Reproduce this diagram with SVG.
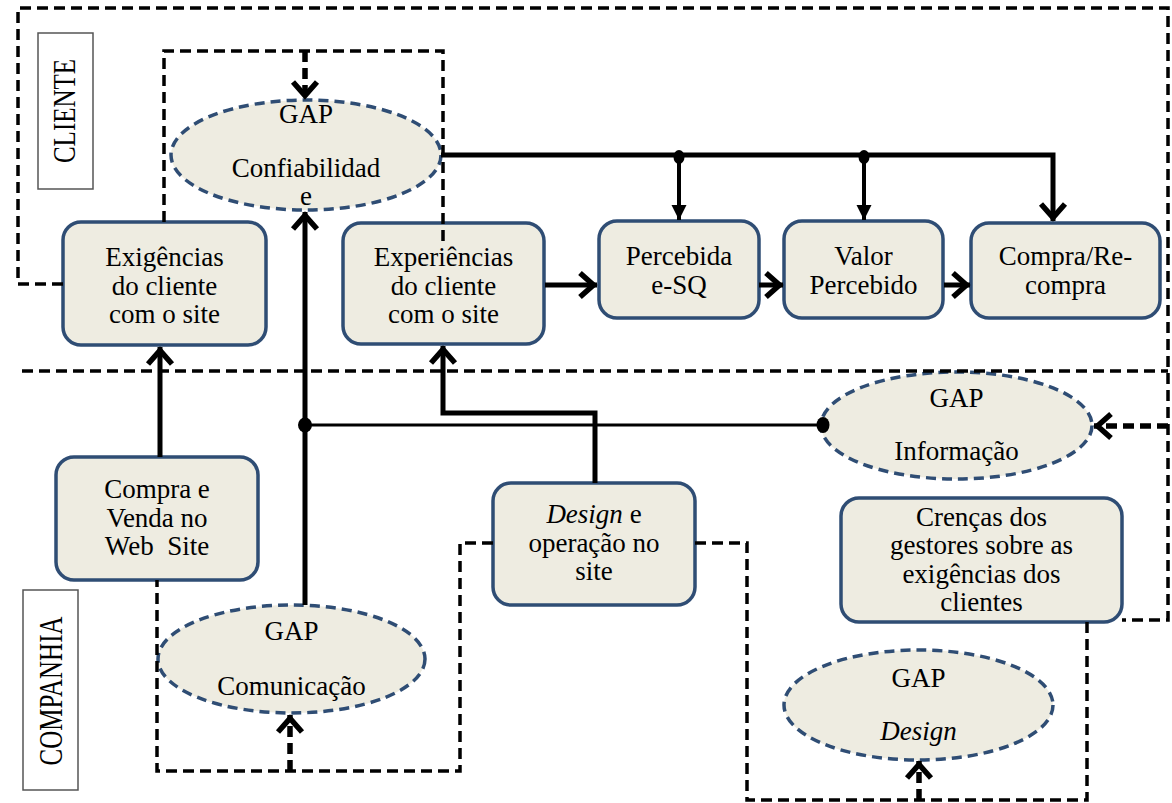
<svg xmlns="http://www.w3.org/2000/svg" width="1172" height="803" viewBox="0 0 1172 803">
  <defs>
    <style>
      .box{fill:#EEECE1;stroke:#2F4D74;stroke-width:3.5}
      .gap{fill:#EEECE1;stroke:#2F4D74;stroke-width:3.5;stroke-dasharray:10 6}
      .t{font-family:"Liberation Serif","Times New Roman",serif;font-size:27px;fill:#000;text-anchor:middle}
      .lbl{font-family:"Liberation Serif","Times New Roman",serif;font-size:25px;fill:#000;text-anchor:middle}
      .lblbox{fill:#fff;stroke:#555;stroke-width:1.5}
      .dash{fill:none;stroke:#000;stroke-width:3.5;stroke-dasharray:11 6}
      .dashb{fill:none;stroke:#000;stroke-width:5.5;stroke-dasharray:11 6}
      .solid{fill:none;stroke:#000;stroke-width:5}
      .mid{fill:none;stroke:#000;stroke-width:4}
      .thin{fill:none;stroke:#000;stroke-width:3}
      .dot{fill:#000}
    </style>
    <!-- open chevron head -->
    <marker id="chev" markerUnits="userSpaceOnUse" viewBox="-22 -16 26 32" markerWidth="26" markerHeight="32" refX="0" refY="0" orient="auto">
      <path d="M-17,-12 L-3.5,0 L-17,12" fill="none" stroke="#000" stroke-width="5.5"/>
    </marker>
    <!-- narrow filled head -->
    <marker id="tri" markerUnits="userSpaceOnUse" viewBox="-16 -9 18 18" markerWidth="18" markerHeight="18" refX="0" refY="0" orient="auto">
      <path d="M-15,-7.5 L0,0 L-15,7.5 Z" fill="#000"/>
    </marker>
  </defs>

  <!-- side labels -->
  <g id="label-cliente">
    <rect class="lblbox" x="38" y="33" width="55" height="156"/>
    <text class="lbl" transform="translate(66,111) rotate(-90) scale(1,1.3)" x="0" y="7">CLIENTE</text>
  </g>
  <g id="label-companhia">
    <rect class="lblbox" x="23" y="590" width="55" height="200"/>
    <text class="lbl" transform="translate(50,691) rotate(-90) scale(1,1.35)" x="0" y="9">COMPANHIA</text>
  </g>

  <!-- nodes -->
  <g id="gap-confiabilidade">
    <ellipse class="gap" cx="306" cy="155" rx="135" ry="55"/>
    <text class="t" x="306" y="123">GAP</text>
    <text class="t" x="306" y="177">Confiabilidad</text>
    <text class="t" x="306" y="205">e</text>
  </g>
  <g id="exigencias">
    <rect class="box" x="63" y="222" width="203" height="123" rx="18"/>
    <text class="t" x="164.5" y="266">Exigências</text>
    <text class="t" x="164.5" y="295">do cliente</text>
    <text class="t" x="164.5" y="323">com o site</text>
  </g>
  <g id="experiencias">
    <rect class="box" x="343" y="223" width="201" height="121" rx="18"/>
    <text class="t" x="443.5" y="266">Experiências</text>
    <text class="t" x="443.5" y="295">do cliente</text>
    <text class="t" x="443.5" y="323">com o site</text>
  </g>
  <g id="percebida-esq">
    <rect class="box" x="599" y="221" width="160" height="97" rx="18"/>
    <text class="t" x="679" y="265">Percebida</text>
    <text class="t" x="679" y="294">e-SQ</text>
  </g>
  <g id="valor-percebido">
    <rect class="box" x="784" y="221" width="159" height="97" rx="18"/>
    <text class="t" x="863.5" y="265">Valor</text>
    <text class="t" x="863.5" y="294">Percebido</text>
  </g>
  <g id="compra-recompra">
    <rect class="box" x="971" y="223" width="189" height="95" rx="18"/>
    <text class="t" x="1065.5" y="265">Compra/Re-</text>
    <text class="t" x="1065.5" y="294">compra</text>
  </g>
  <g id="gap-informacao">
    <ellipse class="gap" cx="956.5" cy="425.5" rx="135.5" ry="53.5"/>
    <text class="t" x="956.5" y="407">GAP</text>
    <text class="t" x="956.5" y="460">Informação</text>
  </g>
  <g id="compra-venda">
    <rect class="box" x="56" y="457" width="202" height="123" rx="18"/>
    <text class="t" x="157" y="498">Compra e</text>
    <text class="t" x="157" y="527">Venda no</text>
    <text class="t" x="157" y="555">Web&#160; Site</text>
  </g>
  <g id="design-operacao">
    <rect class="box" x="493" y="483" width="202" height="122" rx="18"/>
    <text class="t" x="594" y="523"><tspan font-style="italic">Design</tspan> e</text>
    <text class="t" x="594" y="552">operação no</text>
    <text class="t" x="594" y="580">site</text>
  </g>
  <g id="crencas">
    <rect class="box" x="841" y="498" width="281" height="124" rx="18"/>
    <text class="t" x="981.5" y="526">Crenças dos</text>
    <text class="t" x="981.5" y="554">gestores sobre as</text>
    <text class="t" x="981.5" y="583">exigências dos</text>
    <text class="t" x="981.5" y="611">clientes</text>
  </g>
  <g id="gap-comunicacao">
    <ellipse class="gap" cx="291.5" cy="659" rx="133.5" ry="54"/>
    <text class="t" x="291.5" y="640">GAP</text>
    <text class="t" x="291.5" y="695">Comunicação</text>
  </g>
  <g id="gap-design">
    <ellipse class="gap" cx="918.5" cy="705" rx="134.5" ry="55"/>
    <text class="t" x="918.5" y="687">GAP</text>
    <text class="t" x="918.5" y="740" font-style="italic">Design</text>
  </g>

  <!-- connectors -->
  <g id="connectors">
    <!-- outer client frame and right-hand return -->
    <path class="dash" d="M63,284 H18 V8 H1168 V620 H1122"/>
    <!-- client / company divider -->
    <path class="dash" d="M22,371 H1168"/>
    <path class="dashb" d="M1168,426 H1094" marker-end="url(#chev)"/>
    <!-- loop over the reliability gap -->
    <path class="dash" d="M164,222 V51 H443 V243"/>
    <path class="dashb" d="M305,51 V99" marker-end="url(#chev)"/>
    <!-- main trunk from reliability gap -->
    <path class="solid" d="M441,155 H1053 V221" marker-end="url(#chev)"/>
    <path class="mid" d="M679,155 V220" marker-end="url(#tri)"/>
    <path class="mid" d="M864,155 V220" marker-end="url(#tri)"/>
    <ellipse class="dot" cx="679" cy="157" rx="5.5" ry="7"/>
    <ellipse class="dot" cx="864" cy="157" rx="5.5" ry="7"/>
    <!-- chain of client boxes -->
    <path class="solid" d="M545,285 H597" marker-end="url(#chev)"/>
    <path class="solid" d="M759,285 H783" marker-end="url(#chev)"/>
    <path class="solid" d="M944,285 H970" marker-end="url(#chev)"/>
    <!-- company to client -->
    <path class="solid" d="M160,457 V347" marker-end="url(#chev)"/>
    <path class="solid" d="M305,605 V212" marker-end="url(#chev)"/>
    <path class="thin" d="M305,425 H823"/>
    <ellipse class="dot" cx="305" cy="425" rx="7" ry="7.5"/>
    <ellipse class="dot" cx="823" cy="425" rx="6.5" ry="8"/>
    <path class="solid" d="M595,483 V413 H443 V346" marker-end="url(#chev)"/>
    <!-- lower loops -->
    <path class="dash" d="M493,543 H460 V771 H157 V580"/>
    <path class="dashb" d="M290,771 V715" marker-end="url(#chev)"/>
    <path class="dash" d="M695,543 H747 V800 H1087 V622"/>
    <path class="dashb" d="M919,800 V761" marker-end="url(#chev)"/>
  </g>
</svg>
